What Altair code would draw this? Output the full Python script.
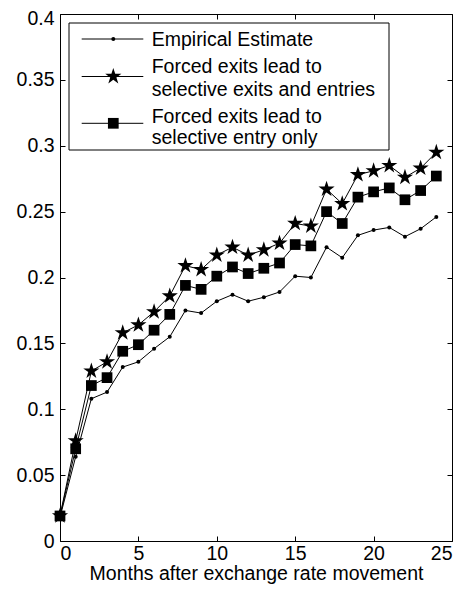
import math
import altair as alt
import pandas as pd

# ---------------- data ----------------
months = list(range(25))
empirical = [0.018, 0.064, 0.108, 0.113, 0.132, 0.136, 0.146, 0.155, 0.175, 0.173,
             0.182, 0.187, 0.182, 0.185, 0.189, 0.201, 0.200, 0.223, 0.215, 0.232,
             0.236, 0.238, 0.231, 0.237, 0.246]
exits_entries = [0.019, 0.076, 0.129, 0.136, 0.158, 0.164, 0.174, 0.186, 0.209, 0.206,
                 0.217, 0.223, 0.217, 0.221, 0.226, 0.241, 0.239, 0.267, 0.256, 0.278,
                 0.281, 0.285, 0.276, 0.283, 0.295]
entry_only = [0.019, 0.070, 0.118, 0.124, 0.144, 0.149, 0.160, 0.172, 0.194, 0.191,
              0.201, 0.208, 0.203, 0.207, 0.211, 0.225, 0.224, 0.250, 0.241, 0.261,
              0.265, 0.268, 0.259, 0.266, 0.277]
series_names = ["Empirical Estimate",
                "Forced exits lead to selective exits and entries",
                "Forced exits lead to selective entry only"]
x_ticks = [0, 5, 10, 15, 20, 25]
y_ticks = [0, 0.05, 0.1, 0.15, 0.2, 0.25, 0.3, 0.35, 0.4]
x_title = "Months after exchange rate movement"

df_emp = pd.DataFrame({"month": months, "value": empirical, "series": series_names[0]})
df_ee = pd.DataFrame({"month": months, "value": exits_entries, "series": series_names[1]})
df_eo = pd.DataFrame({"month": months, "value": entry_only, "series": series_names[2]})
df_all = pd.concat([df_emp, df_ee, df_eo], ignore_index=True)

# ---------------- styling ----------------
W, H = 392, 527
FONT = "Liberation Sans"
FS = 19.5

pts = []
for k in range(10):
    ang = math.radians(-90 + 36 * k)
    r = 1.0 if k % 2 == 0 else 0.382
    pts.append((r * math.cos(ang), r * math.sin(ang)))
STAR = "M" + "L".join(f"{px:.4f},{py:.4f}" for px, py in pts) + "Z"

xs = alt.Scale(domain=[0, 25], nice=False, zero=False)
ys = alt.Scale(domain=[0, 0.4], nice=False, zero=False)

x_axis = alt.Axis(values=x_ticks, orient="bottom", offset=-5, tickSize=5, domain=False,
                  grid=False, labelPadding=3, labelFont=FONT, labelFontSize=FS,
                  labelColor="black", tickColor="black", title=x_title,
                  titleFont=FONT, titleFontSize=FS, titleFontWeight="normal",
                  titleColor="black", titlePadding=2)
y_axis = alt.Axis(values=y_ticks, orient="left", offset=-5, tickSize=5, domain=False,
                  grid=False, labelPadding=6, labelFont=FONT, labelFontSize=FS,
                  labelColor="black", tickColor="black", format="~g", title=None,
                  labelOffset={"condition": {"test": "datum.value >= 0.4", "value": 4},
                               "value": 0})
x_axis_top = alt.Axis(values=x_ticks, orient="top", offset=-5, tickSize=5, domain=False,
                      grid=False, labels=False, tickColor="black", title=None)
y_axis_right = alt.Axis(values=y_ticks, orient="right", offset=-5, tickSize=5, domain=False,
                        grid=False, labels=False, tickColor="black", title=None)

X_main = alt.X("month:Q", scale=xs, axis=x_axis)
Y_main = alt.Y("value:Q", scale=ys, axis=y_axis)
X = alt.X("month:Q", scale=xs, axis=None)
Y = alt.Y("value:Q", scale=ys, axis=None)

lines = alt.Chart(df_all).mark_line(color="black", strokeWidth=1).encode(
    x=X_main, y=Y_main, detail="series:N")

dots = alt.Chart(df_emp).mark_point(shape="circle", filled=True, size=16, color="black",
                                    opacity=1).encode(x=X, y=Y)
stars = alt.Chart(df_ee).mark_point(shape=STAR, filled=True, size=289, color="black",
                                    opacity=1).encode(x=X, y=Y)
squares = alt.Chart(df_eo).mark_point(shape="square", filled=True, size=115, color="black",
                                      opacity=1).encode(x=X, y=Y)

frame = alt.Chart(df_emp).mark_line(opacity=0).encode(
    x=alt.X("month:Q", scale=xs, axis=x_axis_top),
    y=alt.Y("value:Q", scale=ys, axis=y_axis_right))

# ---------------- legend ----------------
one = alt.Data(values=[{}])
leg_box = alt.Chart(one).mark_rect(fill="white", stroke="black", strokeWidth=1).encode(
    x=alt.value(9), x2=alt.value(329), y=alt.value(9), y2=alt.value(136))

leg_layers = [leg_box]
marker_specs = [
    (25, dict(shape="circle", size=16)),
    (62.5, dict(shape=STAR, size=289)),
    (109.3, dict(shape="square", size=115)),
]
for ly, spec in marker_specs:
    leg_layers.append(alt.Chart(one).mark_rule(color="black", strokeWidth=1).encode(
        x=alt.value(21.7), x2=alt.value(83.3), y=alt.value(ly)))
    leg_layers.append(alt.Chart(one).mark_point(filled=True, color="black", opacity=1,
                                                **spec).encode(
        x=alt.value(53.3), y=alt.value(ly)))

leg_lines = [
    (31.7, "Empirical Estimate"),
    (59.3, "Forced exits lead to"),
    (81.5, " selective exits and entries"),
    (109.3, "Forced exits lead to"),
    (130.0, " selective entry only"),
]
for by, txt in leg_lines:
    leg_layers.append(alt.Chart(one).mark_text(
        align="left", baseline="alphabetic", font=FONT, fontSize=FS, color="black"
    ).encode(x=alt.value(91.7), y=alt.value(by), text=alt.value(txt)))

chart = alt.layer(lines, dots, stars, squares, frame, *leg_layers).resolve_axis(
    x="independent", y="independent"
).properties(
    width=W, height=H,
    autosize=alt.AutoSizeParams(type="none"),
    padding={"left": 52, "top": 6, "right": 7, "bottom": 45},
    background="white",
).configure_view(stroke="black", strokeWidth=1)

chart.save("out.html", embed_options={"renderer": "svg", "actions": False})
